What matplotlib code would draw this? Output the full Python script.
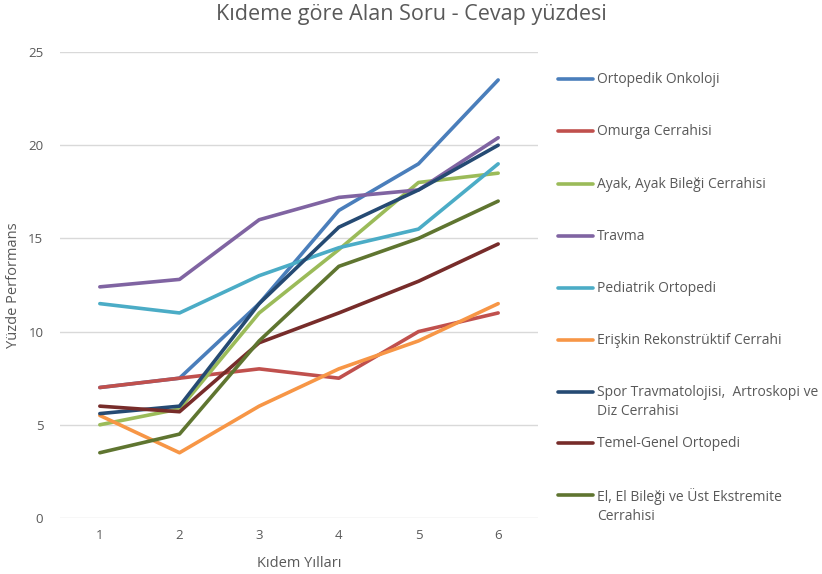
import numpy as np
import matplotlib
matplotlib.use("Agg")
import matplotlib.pyplot as plt
from matplotlib.lines import Line2D

plt.rcParams['font.family'] = ['Open Sans', 'DejaVu Sans']

# data
years = [1, 2, 3, 4, 5, 6]
labels = ["Ortopedik Onkoloji", "Omurga Cerrahisi", "Ayak, Ayak Bileği Cerrahisi",
          "Travma", "Pediatrik Ortopedi", "Erişkin Rekonstrüktif Cerrahi",
          "Spor Travmatolojisi,  Artroskopi ve\nDiz Cerrahisi", "Temel-Genel Ortopedi",
          "El, El Bileği ve Üst Ekstremite\nCerrahisi"]
onkoloji = [7.0, 7.5, 11.5, 16.5, 19.0, 23.5]
omurga = [7.0, 7.5, 8.0, 7.5, 10.0, 11.0]
ayak = [5.0, 5.85, 11.0, 14.4, 18.0, 18.5]
travma = [12.4, 12.8, 16.0, 17.2, 17.6, 20.4]
pediatrik = [11.5, 11.0, 13.0, 14.5, 15.5, 19.0]
eriskin = [5.5, 3.5, 6.0, 8.0, 9.5, 11.5]
spor = [5.6, 6.0, 11.5, 15.6, 17.6, 20.0]
temel = [6.0, 5.7, 9.4, 11.0, 12.7, 14.7]
el = [3.5, 4.5, 9.5, 13.5, 15.0, 17.0]
series = [onkoloji, omurga, ayak, travma, pediatrik, eriskin, spor, temel, el]
colors = ["#4A7EBB", "#C0504D", "#9BBB59", "#8064A2", "#4BACC6",
          "#F79646", "#254A73", "#772C2A", "#5F7530"]

txt = "#595959"

fig = plt.figure(figsize=(8.22, 5.74), dpi=100)
ax = fig.add_axes([0.073, 0.0976, 0.5815, 0.8118])

for s, c in zip(series, colors):
    ax.plot(years, s, color=c, lw=2.6, solid_capstyle='round', solid_joinstyle='round')

ax.set_xlim(0.5, 6.5)
ax.set_ylim(0, 25)
ax.set_yticks([0, 5, 10, 15, 20, 25])
ax.set_xticks(years)
ax.grid(axis='y', color='#D9D9D9', lw=1)
ax.set_axisbelow(True)
for sp in ax.spines.values():
    sp.set_visible(False)
ax.tick_params(length=0, labelsize=9.5, labelcolor=txt)
ax.tick_params(axis='y', pad=12)
ax.tick_params(axis='x', pad=8)
ax.set_xlabel("Kıdem Yılları", fontsize=10.5, color=txt, labelpad=10)
ax.set_ylabel("Yüzde Performans", fontsize=10.5, color=txt, labelpad=5)
fig.suptitle("Kıdeme göre Alan Soru - Cevap yüzdesi", fontsize=15.5, color=txt,
             x=0.5, y=0.993)

# legend drawn by hand on the right side
ypos = [79, 131, 184, 236, 288, 340, 392, 443, 495]
for lab, c, yp in zip(labels, colors, ypos):
    yf = 1 - yp / 574
    fig.add_artist(Line2D([558 / 822, 593 / 822], [yf, yf], color=c, lw=2.6,
                          solid_capstyle='round'))
    fig.text(597 / 822, yf + 0.013, lab, fontsize=10, color=txt, va='top',
             linespacing=1.4)

fig.savefig("out.png", dpi=100)
